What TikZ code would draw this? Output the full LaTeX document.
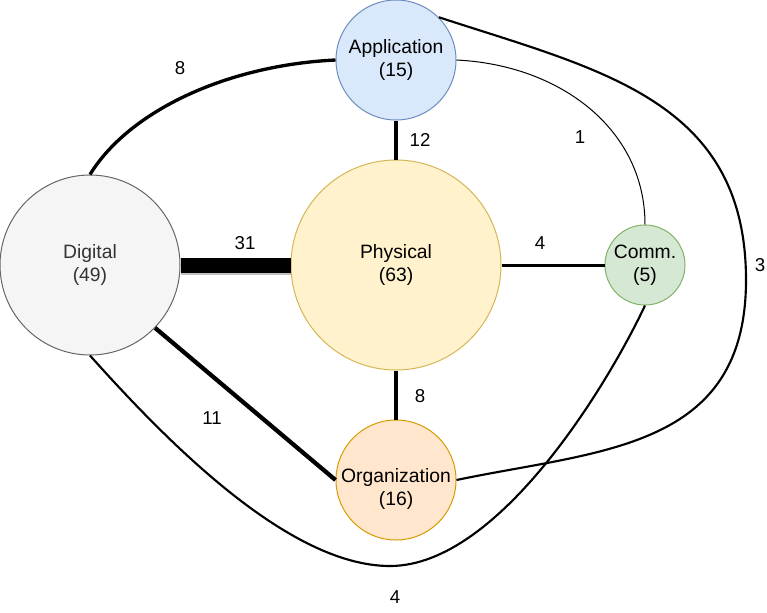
\documentclass[tikz,border=0pt]{standalone}
\usepackage{fontspec}
\setmainfont{Liberation Sans}
\definecolor{appfill}{HTML}{DAE8FC}
\definecolor{appline}{HTML}{6C8EBF}
\definecolor{physfill}{HTML}{FFF2CC}
\definecolor{physline}{HTML}{D6B656}
\definecolor{digfill}{HTML}{F5F5F5}
\definecolor{digline}{HTML}{666666}
\definecolor{digtext}{HTML}{333333}
\definecolor{commfill}{HTML}{D5E8D4}
\definecolor{commline}{HTML}{82B366}
\definecolor{orgfill}{HTML}{FFE6CC}
\definecolor{orgline}{HTML}{D79B00}
\begin{document}
\begin{tikzpicture}[x=0.75pt, y=-0.75pt,
    topic/.style={draw, circle, inner sep=0pt, line width=0.75pt, align=center,
        font=\fontsize{14.5}{17.25}\selectfont},
    weight/.style={font=\fontsize{14}{16}\selectfont},
    link/.style={line width=#1}]
            \useasboundingbox (0,0) rectangle (767,612);

            % Define nodes
            \node[topic, fill=appfill, draw=appline, minimum size=90pt] (app) at (396,60) {Application\\(15)};
            \node[topic, fill=physfill, draw=physline, minimum size=157.5pt] (phys) at (396,265) {Physical\\(63)};
            \node[topic, fill=digfill, draw=digline, text=digtext, minimum size=135pt] (dig) at (90,265) {Digital\\(49)};
            \node[topic, fill=commfill, draw=commline, minimum size=60pt] (comm) at (645,265) {Comm.\\(5)};
            \node[topic, fill=orgfill, draw=orgline, minimum size=90pt,
                label={[align=center, font=\fontsize{14.5}{17.25}\selectfont, yshift=-7pt]center:Organization\\(16)}] (org) at (396,480) {};

            % Draw edges
            \draw[link=11.25pt, black!25] ([yshift=-2.2pt]dig.east) -- ([yshift=-2.2pt]phys.west);
            \draw[link=11.25pt] (dig) -- (phys);
            \draw[link=3.4pt] (app) -- (phys);
            \draw[link=2.25pt] (phys) -- (comm);
            \draw[link=3pt] (phys) -- (org);
            \draw[link=3.2pt] (dig.-44) -- (org.west);
            \draw[link=2.5pt] (dig.north) .. controls +(40,-65) and +(-106,5) .. (app.west);
            \draw[link=0.75pt] (app.east) .. controls +(104,5) and +(0,-95) .. (comm.north);
            \draw[link=1.6pt] (app.45) .. controls (600,70) and (746,100) .. (746,280)
                .. controls (746,450) and (600,450) .. (org.east);
            \draw[link=1.6pt] (dig.south) .. controls (170,445) and (290,566) .. (390,566)
                .. controls (500,566) and (610,380) .. (comm.south);

            % Edge weights
            \node[weight] (w1) at (180,68) {8};
            \node[weight] (w2) at (420,140) {12};
            \node[weight] (w3) at (580,137) {1};
            \node[weight] (w4) at (760,265) {3};
            \node[weight] (w5) at (245,243) {31};
            \node[weight] (w6) at (540,243) {4};
            \node[weight] (w7) at (420,396) {8};
            \node[weight] (w8) at (212,418) {11};
            \node[weight] (w9) at (395,597) {4};

        \end{tikzpicture}
\end{document}
